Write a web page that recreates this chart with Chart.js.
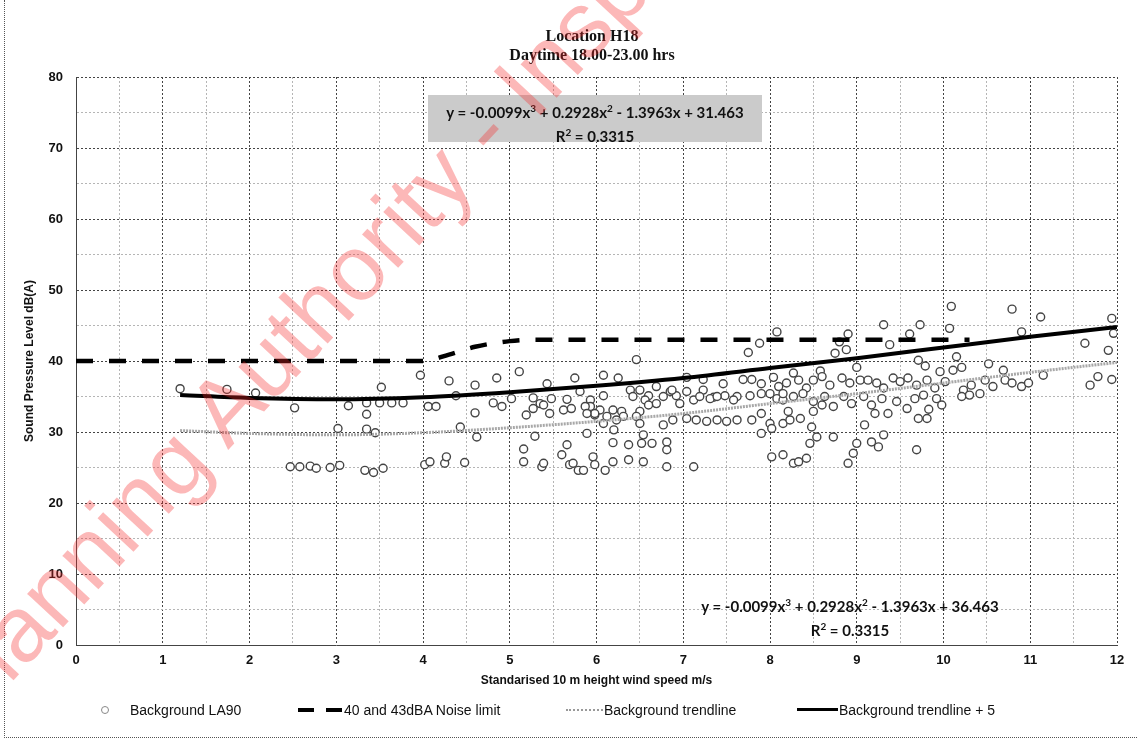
<!DOCTYPE html>
<html lang="en">
<head>
<meta charset="UTF-8">
<title>Location H18 - Daytime 18.00-23.00 hrs</title>
<script src="https://cdn.jsdelivr.net/npm/chart.js"></script>
<style>
    body { margin: 0; background: #fff; }
    #wrap { position: relative; width: 1138px; height: 742px; overflow: hidden; }
    #chart { position: absolute; left: 0; top: 0; }
    /* dotted frame of the scanned page */
    #frame { position: absolute; left: 4px; top: 0; width: 1134px; height: 737px;
             border-left: 1px dotted #555; border-bottom: 1px dotted #555; }
    .title { position: absolute; left: 0; width: 1184px; text-align: center;
             font: bold 16px 'Liberation Serif', 'Times New Roman', serif; color: #111; }
    .eq { position: absolute; text-align: center; font: bold 15px Lato, 'Open Sans', sans-serif;
          color: #111; line-height: 20px; }
    #eqTop { left: 428px; top: 95px; width: 334px; height: 47px; padding-top: 3px; box-sizing: border-box;
             background: #cbcbcb; }
    #eqBottom { left: 690px; top: 592px; width: 320px; }
    .lg { position: absolute; top: 702px; font: 14px 'Liberation Sans', Arial, sans-serif; color: #111;
          line-height: 16px; white-space: nowrap; }
    .sym { position: absolute; top: 710px; }
    #watermark { position: absolute; left: -90px; top: 677px; transform-origin: 0 0;
                 transform: rotate(-47deg); font: 93px 'Liberation Sans', Arial, sans-serif;
                 line-height: 1; color: rgba(245, 40, 40, 0.33); white-space: nowrap; pointer-events: none; }
</style>
</head>
<body>
<div id="wrap">
    <canvas id="chart" width="1138" height="742"></canvas>
    <div id="frame"></div>
    <div class="title" style="top:27px">Location H18</div>
    <div class="title" style="top:46px">Daytime 18.00-23.00 hrs</div>

    <div class="eq" id="eqTop">y = -0.0099x<sup style="font-size:10px">3</sup> + 0.2928x<sup style="font-size:10px">2</sup> - 1.3963x + 31.463<br>R<sup style="font-size:10px">2</sup> = 0.3315</div>
    <div class="eq" id="eqBottom">y = -0.0099x<sup style="font-size:10px">3</sup> + 0.2928x<sup style="font-size:10px">2</sup> - 1.3963x + 36.463<br>R<sup style="font-size:10px">2</sup> = 0.3315</div>

    <!-- legend -->
    <div class="sym" style="left:101px; top:706px; width:6px; height:6px; border:1px solid #888; border-radius:50%"></div>
    <div class="lg" style="left:130px">Background LA90</div>
    <div class="sym" style="left:298px; top:708px; width:16px; height:4px; background:#000"></div>
    <div class="sym" style="left:326px; top:708px; width:16px; height:4px; background:#000"></div>
    <div class="lg" style="left:344px">40 and 43dBA Noise limit</div>
    <div class="sym" style="left:566px; top:709px; width:37px; height:0; border-top:2px dotted #999"></div>
    <div class="lg" style="left:604px">Background trendline</div>
    <div class="sym" style="left:797px; top:708px; width:41px; height:3px; background:#000"></div>
    <div class="lg" style="left:839px">Background trendline + 5</div>

    <div id="watermark">Planning Authority - Inspection</div>
</div>

<script>
    const windSpeed = [
        1.20, 1.74, 2.07, 2.52, 2.47, 2.58, 2.70, 2.77, 2.93, 3.04,
        3.02, 3.14, 3.35, 3.35, 3.35, 3.33, 3.43, 3.54, 3.45, 3.50,
        3.52, 3.64, 3.77, 3.97, 4.06, 4.15, 4.02, 4.08, 4.25, 4.27,
        4.30, 4.38, 4.43, 4.48, 4.60, 4.60, 4.62, 4.81, 4.85, 4.91,
        5.02, 5.11, 5.16, 5.16, 5.19, 5.27, 5.27, 5.29, 5.35, 5.37,
        5.39, 5.39, 5.43, 5.46, 5.48, 5.60, 5.62, 5.66, 5.66, 5.69,
        5.71, 5.75, 5.79,
        6.08, 6.25, 6.46, 7.04, 7.23, 7.46, 7.69, 7.79, 7.90, 8.04,
        8.10, 7.75, 7.88, 8.08,
        5.81, 5.93, 6.08, 6.39, 6.50, 6.60, 6.69, 6.85, 6.92, 7.04,
        7.12, 7.23, 7.35, 7.48, 7.62, 7.77, 7.90, 8.00, 8.08, 8.15,
        5.93, 5.98, 6.04, 6.12, 6.19, 6.29, 6.42, 6.56, 6.69, 6.77,
        6.87, 6.96, 7.19, 7.31, 7.39, 7.58,
        5.87, 5.98, 6.08, 6.31, 6.50, 6.60, 6.77, 6.88, 7.04, 7.15,
        7.27, 7.39, 7.50, 7.62, 7.79, 7.90, 8.00, 8.15, 5.89, 6.23,
        6.46, 6.50,
        5.89, 6.20, 7.90, 8.02, 6.19, 6.37, 6.52, 6.64, 6.81, 6.81,
        6.54,
        5.73, 5.85, 5.96, 5.98, 6.10, 6.19, 6.37, 6.54, 6.81, 7.12,
        8.02, 8.15,
        10.09, 9.31, 9.73, 10.07, 9.61, 8.90, 8.80, 8.88, 8.75, 9.38,
        10.15, 10.52, 9.00, 9.71, 9.79, 9.96, 10.11, 10.21, 8.58, 8.27,
        8.19, 8.33, 8.42, 8.50, 8.60, 8.69, 8.83, 8.92, 9.04, 9.13,
        9.23, 9.31, 9.42, 9.50, 9.59, 9.69, 9.81, 9.90, 10.02, 10.23,
        10.32, 10.42, 10.48,
        8.15, 8.27, 8.38, 8.50, 8.63, 8.73, 8.85, 8.94, 9.08, 9.17,
        9.29, 9.36, 9.46, 9.58, 9.67, 9.77, 9.92, 9.98, 10.21, 10.30,
        8.21, 8.35, 8.50, 8.60, 9.21, 9.71, 9.81, 9.83, 8.23,
        8.48, 8.54, 8.46, 8.73, 9.09, 9.31, 9.17, 9.25, 9.00, 8.96,
        8.90, 9.69, 8.27, 8.33, 8.42,
        10.79, 11.12, 11.94, 11.96, 11.63, 11.90, 10.90, 10.69, 10.71, 10.57,
        10.79, 10.90, 10.98, 11.15, 11.78, 11.69, 11.94
    ];
    const la90 = [
        36.1, 36.0, 35.5, 33.4, 25.1, 25.1, 25.2, 24.9, 25.0, 25.3,
        30.5, 33.7, 34.1, 32.5, 30.4, 24.6, 24.3, 24.9, 29.9, 34.1,
        36.3, 34.1, 34.1, 38.0, 33.6, 33.6, 25.4, 25.8, 25.6, 26.5,
        37.2, 35.1, 30.7, 25.7, 36.6, 32.7, 29.3, 34.1, 37.6, 33.6,
        34.7, 38.5, 27.6, 25.8, 32.4, 34.8, 33.3, 29.4, 34.0, 25.1,
        33.8, 25.6, 36.8, 32.6, 34.7, 26.8, 33.1, 34.6, 28.2, 25.4,
        33.3, 37.6, 24.6,
        38.0, 37.6, 40.2, 37.7, 37.4, 36.8, 37.4, 37.4, 36.8, 37.7,
        36.4, 41.2, 42.5, 44.1,
        35.7, 34.5, 35.1, 35.9, 35.9, 35.1, 36.4, 35.7, 35.1, 35.7,
        34.5, 35.9, 34.9, 35.1, 35.0, 35.1, 35.4, 35.4, 34.7, 34.5,
        33.6, 32.4, 33.1, 32.2, 33.1, 32.9, 35.0, 34.5, 34.0, 35.0,
        35.9, 34.0, 35.0, 34.7, 35.0, 34.5,
        33.6, 32.6, 31.2, 32.2, 32.9, 33.8, 31.0, 31.7, 31.9, 31.7,
        31.5, 31.7, 31.5, 31.7, 31.7, 32.6, 31.2, 31.2, 32.6, 31.7,
        32.2, 31.2,
        29.8, 30.3, 29.8, 30.5, 28.5, 28.2, 28.4, 28.4, 28.6, 27.5,
        29.6,
        25.6, 24.6, 26.5, 25.4, 24.6, 25.8, 26.1, 25.8, 25.1, 25.1,
        26.5, 26.8,
        47.7, 45.1, 45.1, 44.6, 43.8, 43.8, 42.7, 41.6, 41.1, 42.3,
        40.6, 39.6, 39.1, 40.1, 39.3, 38.5, 38.7, 39.1, 38.6, 38.3,
        36.9, 37.3, 36.2, 37.3, 37.8, 36.6, 37.6, 36.9, 37.3, 37.3,
        36.9, 36.2, 37.6, 37.1, 37.6, 36.6, 37.3, 36.2, 37.1, 35.9,
        36.6, 35.4, 37.3,
        35.4, 35.0, 35.4, 34.3, 35.0, 33.6, 35.0, 34.0, 35.0, 33.8,
        34.7, 32.6, 34.3, 33.3, 34.7, 35.2, 34.7, 33.8, 35.0, 35.2,
        32.9, 31.9, 32.9, 33.8, 32.6, 31.9, 31.9, 33.2, 31.7,
        30.7, 29.3, 28.4, 29.3, 31.0, 29.6, 28.6, 27.9, 28.4, 27.0,
        25.6, 27.5, 25.6, 25.8, 26.3,
        47.3, 46.2, 46.0, 43.9, 42.5, 41.5, 44.1, 38.7, 37.3, 36.4,
        36.9, 36.4, 36.9, 38.0, 37.8, 36.6, 37.4
    ];

    // trendlines
    const trendX = [1.2, 2, 3, 4, 5, 6, 7, 8, 9, 10, 11, 12];
    const trendY = [30.2, 29.8, 29.6, 29.9, 30.6, 31.5, 32.6, 34.0, 35.4, 36.9, 38.4, 39.8];
    const trendPlus5Y = [35.2, 34.8, 34.6, 34.9, 35.6, 36.5, 37.6, 39.0, 40.4, 41.9, 43.4, 44.8];

    // 40 / 43 dBA noise limit
    const limitX = [0, 4, 4.3, 4.6, 5.0, 5.3, 10.3];
    const limitY = [40, 40, 40.9, 42.0, 42.8, 43, 43];

    const toPoints = (xs, ys) => xs.map((x, i) => ({ x: x, y: ys[i] }));

    const tickFont = { family: "'Liberation Sans', Arial, sans-serif", size: 13, weight: 'bold' };
    const titleFont = { family: "'Liberation Sans', Arial, sans-serif", size: 12, weight: 'bold' };

    const ctx = document.getElementById('chart').getContext('2d');
    new Chart(ctx, {
        type: 'scatter',
        data: {
            datasets: [
                {
                    label: 'Background trendline + 5',
                    data: toPoints(trendX, trendPlus5Y),
                    showLine: true,
                    borderColor: '#000',
                    borderWidth: 4,
                    pointRadius: 0,
                    cubicInterpolationMode: 'monotone',
                    order: 1
                },
                {
                    label: '40 and 43dBA Noise limit',
                    data: toPoints(limitX, limitY),
                    showLine: true,
                    borderColor: '#000',
                    borderWidth: 4.5,
                    borderDash: [17, 16],
                    pointRadius: 0,
                    cubicInterpolationMode: 'monotone',
                    order: 2
                },
                {
                    label: 'Background trendline',
                    data: toPoints(trendX, trendY),
                    showLine: true,
                    borderColor: '#a8a8a8',
                    borderWidth: 3,
                    borderDash: [2, 1],
                    pointRadius: 0,
                    cubicInterpolationMode: 'monotone',
                    order: 3
                },
                {
                    label: 'Background LA90',
                    data: toPoints(windSpeed, la90),
                    backgroundColor: '#fff',
                    borderColor: '#444',
                    borderWidth: 1.4,
                    pointRadius: 4,
                    order: 10
                }
            ]
        },
        options: {
            responsive: false,
            animation: false,
            layout: { padding: { top: 77, right: 21, bottom: 40, left: 0 } },
            plugins: {
                legend: { display: false },
                tooltip: { enabled: false }
            },
            scales: {
                x: {
                    type: 'linear',
                    min: 0,
                    max: 12,
                    afterFit: scale => { scale.height = 57; },
                    ticks: {
                        stepSize: 0.5,
                        autoSkip: false,
                        maxRotation: 0,
                        padding: 8,
                        color: '#111',
                        font: tickFont,
                        callback: v => Number.isInteger(v) ? v : ''
                    },
                    grid: {
                        drawTicks: false,
                        color: c => Number.isInteger(c.tick.value) ? '#444' : '#b5b5b5'
                    },
                    border: { dash: [2, 2], color: '#444' },
                    title: {
                        display: true,
                        text: 'Standarised 10 m height wind speed m/s',
                        color: '#111',
                        font: titleFont,
                        padding: { top: 0, bottom: 14 }
                    }
                },
                y: {
                    min: 0,
                    max: 80,
                    afterFit: scale => { scale.width = 76; },
                    ticks: {
                        stepSize: 5,
                        autoSkip: false,
                        padding: 13,
                        color: '#111',
                        font: tickFont,
                        callback: v => v % 10 === 0 ? v : ''
                    },
                    grid: {
                        drawTicks: false,
                        color: c => c.tick.value % 10 === 0 ? '#444' : '#b5b5b5'
                    },
                    border: { dash: [2, 2], color: '#444' },
                    title: {
                        display: true,
                        text: 'Sound Pressure Level dB(A)',
                        color: '#111',
                        font: titleFont,
                        padding: { top: 22, bottom: 0 }
                    }
                }
            }
        }
    });
</script>
</body>
</html>
